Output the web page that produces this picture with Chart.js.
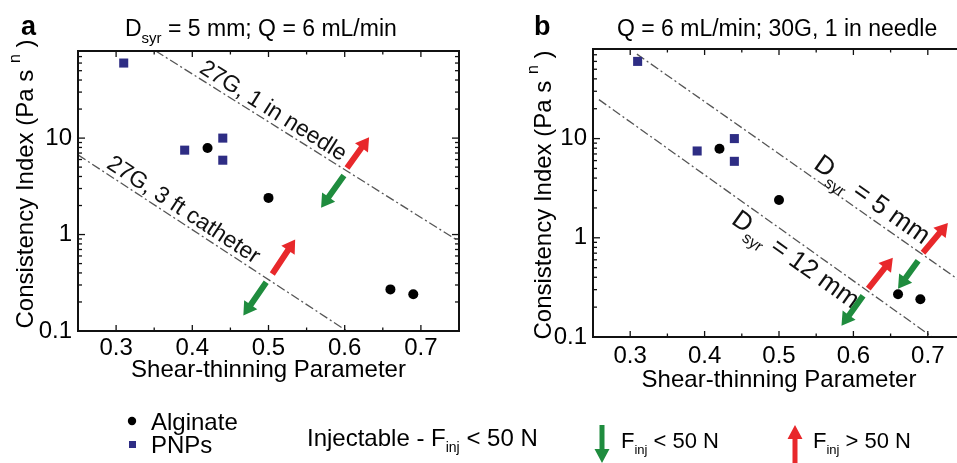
<!DOCTYPE html>
<html>
<head>
<meta charset="utf-8">
<script src="https://cdn.jsdelivr.net/npm/chart.js@4.4.1/dist/chart.umd.min.js"></script>
<style>
  html, body { margin: 0; padding: 0; background: #fff; overflow: hidden; }
  #wrap { position: relative; width: 957px; height: 463px; overflow: hidden; }
  canvas { position: absolute; top: 0; }
  #chartA { left: 0; }
  #chartB { left: 480px; }
</style>
</head>
<body>
<div id="wrap">
  <canvas id="chartA" width="957" height="463"></canvas>
  <canvas id="chartB" width="500" height="400"></canvas>
</div>
<script>
// values (same samples in both panels)
const alginateX = [0.42, 0.50, 0.66, 0.69];
const alginateY = [7.9, 2.4, 0.27, 0.24];
const pnpX = [0.31, 0.39, 0.44, 0.44];
const pnpY = [60, 7.5, 10, 5.9];

// axis ticks
const xMajor = [0.3, 0.4, 0.5, 0.6, 0.7];
const xMinor = [0.25, 0.35, 0.45, 0.55, 0.65, 0.75];
const yMajor = [0.1, 1, 10];
const yMinor = [0.2, 0.3, 0.4, 0.5, 0.6, 0.7, 0.8, 0.9, 2, 3, 4, 5, 6, 7, 8, 9, 20, 30, 40, 50, 60, 70, 80];

// injectability boundaries, [x, y] end points
const needleLineA = [[0.352, 80], [0.75, 0.85]];
const catheterLineA = [[0.25, 6.7], [0.603, 0.1]];
const syr5LineB = [[0.309, 71], [0.75, 0.34]];
const syr12LineB = [[0.258, 24.7], [0.706, 0.1]];

// arrows [x0, y0, x1, y1]
const upArrowsA = [[0.603, 4.9, 0.632, 10.2], [0.505, 0.39, 0.535, 0.89]];
const downArrowsA = [[0.599, 4.1, 0.569, 1.9], [0.497, 0.32, 0.467, 0.145]];
const upArrowsB = [[0.6935, 0.707, 0.727, 1.41], [0.62, 0.307, 0.653, 0.63]];
const downArrowsB = [[0.687, 0.587, 0.66, 0.307], [0.613, 0.26, 0.584, 0.13]];

const FONT = "'Liberation Sans', Arial, sans-serif";
const RED = '#e8282b';
const GREEN = '#1f8c3e';
const NAVY = '#2e2d84';
const LINE_GREY = '#555';

function fontOf(size, bold) {
  return (bold ? 'bold ' : '') + size + 'px ' + FONT;
}

// rich text: parts = [text, size, dy, bold]
function drawParts(ctx, parts, x, y, center) {
  let w = 0;
  parts.forEach(p => { ctx.font = fontOf(p[1], p[3]); w += ctx.measureText(p[0]).width; });
  let cx = center ? x - w / 2 : x;
  ctx.textAlign = 'left';
  ctx.textBaseline = 'alphabetic';
  parts.forEach(p => {
    ctx.font = fontOf(p[1], p[3]);
    ctx.fillText(p[0], cx, y + p[2]);
    cx += ctx.measureText(p[0]).width;
  });
}

function arrow(ctx, x0, y0, x1, y1, color, shaftW, headL, headW) {
  const dx = x1 - x0, dy = y1 - y0, L = Math.hypot(dx, dy);
  const ux = dx / L, uy = dy / L, nx = -uy, ny = ux;
  const bx = x1 - ux * headL, by = y1 - uy * headL;
  ctx.save();
  ctx.fillStyle = color;
  ctx.beginPath();
  ctx.moveTo(x0 + nx * shaftW / 2, y0 + ny * shaftW / 2);
  ctx.lineTo(bx + nx * shaftW / 2, by + ny * shaftW / 2);
  ctx.lineTo(bx + nx * headW / 2, by + ny * headW / 2);
  ctx.lineTo(x1, y1);
  ctx.lineTo(bx - nx * headW / 2, by - ny * headW / 2);
  ctx.lineTo(bx - nx * shaftW / 2, by - ny * shaftW / 2);
  ctx.lineTo(x0 - nx * shaftW / 2, y0 - ny * shaftW / 2);
  ctx.closePath();
  ctx.fill();
  ctx.restore();
}

function logAt(line, x) {
  const [[x0, y0], [x1, y1]] = line;
  const t = (x - x0) / (x1 - x0);
  return Math.pow(10, Math.log10(y0) + t * (Math.log10(y1) - Math.log10(y0)));
}

function lineDataset(line) {
  return {
    type: 'line',
    data: line.map(p => ({ x: p[0], y: p[1] })),
    borderColor: LINE_GREY,
    borderWidth: 1.3,
    borderDash: [9, 3, 2, 3],
    pointRadius: 0,
    fill: false
  };
}

function panelPlugin(p) {
  return {
    id: 'panel' + p.letter,
    afterDatasetsDraw(chart) {
      const ctx = chart.ctx, xs = chart.scales.x, ys = chart.scales.y;
      ctx.save();
      // labels along the boundary lines
      ctx.fillStyle = '#111';
      p.lineLabels.forEach(lb => {
        const p0 = [xs.getPixelForValue(lb.line[0][0]), ys.getPixelForValue(lb.line[0][1])];
        const p1 = [xs.getPixelForValue(lb.line[1][0]), ys.getPixelForValue(lb.line[1][1])];
        const ang = Math.atan2(p1[1] - p0[1], p1[0] - p0[0]);
        const px = xs.getPixelForValue(lb.at);
        const py = ys.getPixelForValue(logAt(lb.line, lb.at));
        ctx.save();
        ctx.translate(px, py);
        ctx.rotate(ang);
        drawParts(ctx, lb.parts, 0, lb.baseline, true);
        ctx.restore();
      });
      // arrows
      const px = (v) => xs.getPixelForValue(v), py = (v) => ys.getPixelForValue(v);
      p.up.forEach(a => arrow(ctx, px(a[0]), py(a[1]), px(a[2]), py(a[3]), RED, 6, 13, 16));
      p.down.forEach(a => arrow(ctx, px(a[0]), py(a[1]), px(a[2]), py(a[3]), GREEN, 6, 13, 16));
      ctx.restore();
    },
    afterDraw(chart) {
      const ctx = chart.ctx, xs = chart.scales.x, ys = chart.scales.y, a = chart.chartArea;
      ctx.save();
      ctx.strokeStyle = '#111';
      ctx.lineWidth = 1.3;
      const seg = (x0, y0, x1, y1) => { ctx.beginPath(); ctx.moveTo(x0, y0); ctx.lineTo(x1, y1); ctx.stroke(); };
      xMajor.map(v => [v, 6]).concat(xMinor.map(v => [v, 3.5])).forEach(([v, len]) => {
        const x = xs.getPixelForValue(v);
        seg(x, a.bottom, x, a.bottom - len);
        seg(x, a.top, x, a.top + len);
      });
      yMajor.map(v => [v, 7]).concat(yMinor.map(v => [v, 4])).forEach(([v, len]) => {
        const y = ys.getPixelForValue(v);
        seg(a.left, y, a.left + len, y);
        seg(a.right, y, a.right - len, y);
      });
      ctx.lineWidth = 2;
      ctx.strokeRect(a.left, a.top, a.right - a.left, a.bottom - a.top);

      // panel letter and title
      ctx.fillStyle = '#000';
      drawParts(ctx, [[p.letter, 27, 0, true]], p.letterX, 35, false);
      drawParts(ctx, p.title, p.titleX, 36, false);

      // y axis title, rotated
      ctx.save();
      ctx.translate(p.yTitleX, p.yTitleY);
      ctx.rotate(-Math.PI / 2);
      drawParts(ctx, [['Consistency Index (Pa s ', 24, 0], ['n', 16, -13], [' )', 24, 0]], 0, 0, true);
      ctx.restore();

      if (p.legend) p.legend(ctx);
      ctx.restore();
    }
  };
}

function drawLegend(ctx) {
  ctx.fillStyle = '#000';
  ctx.beginPath();
  ctx.arc(132, 421, 4.2, 0, Math.PI * 2);
  ctx.fill();
  drawParts(ctx, [['Alginate', 24, 0]], 151, 430, false);
  ctx.fillStyle = NAVY;
  ctx.fillRect(129, 441, 7, 7);
  ctx.fillStyle = '#000';
  drawParts(ctx, [['PNPs', 24, 0]], 151, 453, false);
  drawParts(ctx, [['Injectable - F', 24, 0], ['inj', 14, 6], [' < 50 N', 24, 0]], 307, 446, false);
  arrow(ctx, 602, 425, 602, 463, GREEN, 5, 14, 15);
  arrow(ctx, 795, 463, 795, 425, RED, 5, 14, 15);
  ctx.fillStyle = '#000';
  drawParts(ctx, [['F', 22, 0], ['inj', 13, 6], [' < 50 N', 22, 0]], 621, 448, false);
  drawParts(ctx, [['F', 22, 0], ['inj', 13, 6], [' > 50 N', 22, 0]], 813, 448, false);
}

function makeChart(id, geo, lines, plugin) {
  const fixW = (s) => { s.width = geo.yWidth; };
  const fixH = (s) => { s.height = geo.xHeight; };
  return new Chart(document.getElementById(id), {
    type: 'scatter',
    data: {
      datasets: [
        {
          label: 'Alginate',
          data: alginateX.map((x, i) => ({ x: x, y: alginateY[i] })),
          pointStyle: 'circle',
          pointRadius: 5,
          backgroundColor: '#000',
          borderColor: '#000',
          borderWidth: 0
        },
        {
          label: 'PNPs',
          data: pnpX.map((x, i) => ({ x: x, y: pnpY[i] })),
          pointStyle: 'rect',
          pointRadius: 6.4,
          backgroundColor: NAVY,
          borderColor: NAVY,
          borderWidth: 0
        }
      ].concat(lines.map(lineDataset))
    },
    options: {
      responsive: false,
      animation: false,
      devicePixelRatio: 1,
      layout: { autoPadding: false, padding: geo.padding },
      plugins: { legend: { display: false }, tooltip: { enabled: false } },
      scales: {
        x: {
          type: 'linear',
          min: 0.25,
          max: 0.75,
          afterBuildTicks: (s) => { s.ticks = xMajor.map(v => ({ value: v })); },
          afterFit: fixH,
          grid: { display: false, drawTicks: false },
          border: { display: false },
          ticks: {
            autoSkip: false,
            maxRotation: 0,
            padding: geo.xPad,
            color: '#000',
            font: { family: FONT, size: 24 },
            callback: (v) => Number(v).toFixed(1)
          },
          title: {
            display: true,
            text: 'Shear-thinning Parameter',
            color: '#000',
            font: { family: FONT, size: 24 },
            padding: { top: 0, bottom: geo.xTitlePad }
          }
        },
        y: {
          type: 'logarithmic',
          min: 0.1,
          max: 80,
          afterBuildTicks: (s) => { s.ticks = yMajor.map(v => ({ value: v })); },
          afterFit: fixW,
          grid: { display: false, drawTicks: false },
          border: { display: false },
          ticks: {
            autoSkip: false,
            padding: 6,
            color: '#000',
            font: { family: FONT, size: 24 },
            callback: (v) => String(v)
          }
        }
      }
    },
    plugins: [plugin]
  });
}

makeChart('chartA',
  { padding: { left: 0, top: 51, right: 498, bottom: 63 }, yWidth: 78, xHeight: 69, xPad: 3, xTitlePad: 15 },
  [needleLineA, catheterLineA],
  panelPlugin({
    letter: 'a', letterX: 21,
    title: [['D', 23, 0], ['syr', 15, 7], [' = 5 mm; Q = 6 mL/min', 23, 0]], titleX: 125,
    yTitleX: 33, yTitleY: 184,
    lineLabels: [
      { line: needleLineA, at: 0.498, baseline: -5, parts: [['27G, 1 in needle', 23, 0]] },
      { line: catheterLineA, at: 0.38, baseline: -5, parts: [['27G, 3 ft catheter', 23, 0]] }
    ],
    up: upArrowsA, down: downArrowsA,
    legend: drawLegend
  }));

makeChart('chartB',
  { padding: { left: 0, top: 49, right: 15, bottom: 0 }, yWidth: 113, xHeight: 63, xPad: 5, xTitlePad: 5 },
  [syr5LineB, syr12LineB],
  panelPlugin({
    letter: 'b', letterX: 54,
    title: [['Q = 6 mL/min; 30G, 1 in needle', 23, 0]], titleX: 137,
    yTitleX: 71, yTitleY: 195,
    lineLabels: [
      { line: syr5LineB, at: 0.613, baseline: -8, parts: [['D', 26, 0], ['syr', 16, 8], [' = 5 mm', 26, 0]] },
      { line: syr12LineB, at: 0.535, baseline: 24, parts: [['D', 26, 0], ['syr', 16, 8], [' = 12 mm', 26, 0]] }
    ],
    up: upArrowsB, down: downArrowsB,
    legend: null
  }));
</script>
</body>
</html>
